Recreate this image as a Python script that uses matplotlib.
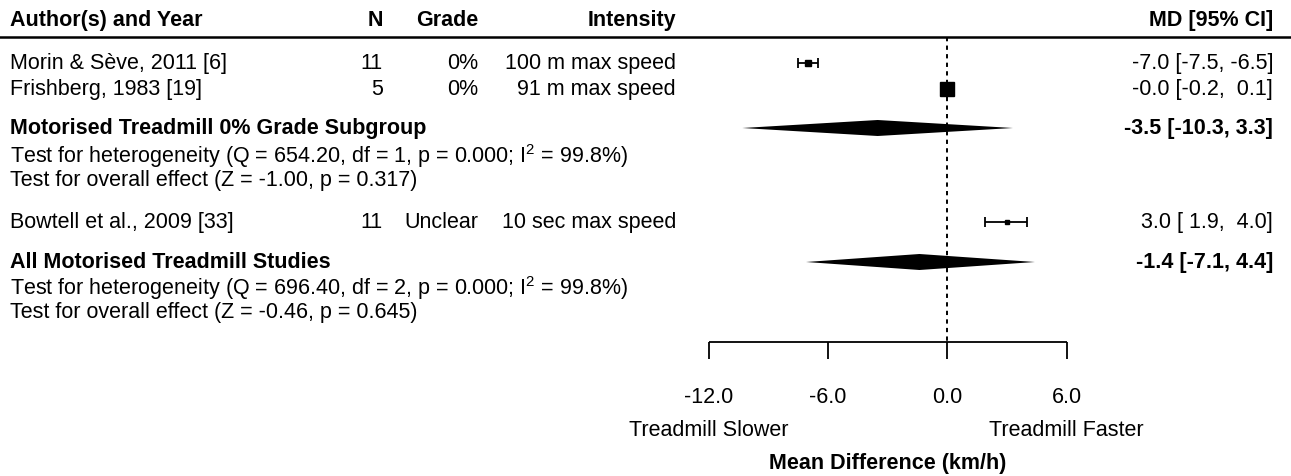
import matplotlib.pyplot as plt

plt.rcParams['font.family'] = ['Liberation Sans', 'DejaVu Sans']
plt.rcParams['mathtext.fontset'] = 'custom'
plt.rcParams['mathtext.rm'] = 'Liberation Sans'
plt.rcParams['mathtext.it'] = 'Liberation Sans:italic'

# study rows
authors = ["Morin & Sève, 2011 [6]", "Frishberg, 1983 [19]", "Bowtell et al., 2009 [33]"]
n_subj = [11, 5, 11]
grades = ["0%", "0%", "Unclear"]
intensity = ["100 m max speed", "91 m max speed", "10 sec max speed"]
md = [-7.0, -0.0, 3.0]
ci_lo = [-7.5, -0.2, 1.9]
ci_hi = [-6.5, 0.1, 4.0]
md_labels = ["-7.0 [-7.5, -6.5]", "-0.0 [-0.2,  0.1]", " 3.0 [ 1.9,  4.0]"]

# pooled estimates (subgroup, overall)
pool_names = ["Motorised Treadmill 0% Grade Subgroup", "All Motorised Treadmill Studies"]
pool_md = [-3.5, -1.4]
pool_lo = [-10.3, -7.1]
pool_hi = [3.3, 4.4]
pool_labels = ["-3.5 [-10.3, 3.3]", "-1.4 [-7.1, 4.4]"]
het_text = ["Test for heterogeneity (Q = 654.20, df = 1, p = 0.000; I$^2$ = 99.8%)",
            "Test for heterogeneity (Q = 696.40, df = 2, p = 0.000; I$^2$ = 99.8%)"]
eff_text = ["Test for overall effect (Z = -1.00, p = 0.317)",
            "Test for overall effect (Z = -0.46, p = 0.645)"]

xticks = [-12, -6, 0, 6]

# ---- layout (pixels) ----
W, H = 1291, 476
x0_px, unit_px = 947.3, 119.4 / 6
study_y = [63, 89, 222]
pool_y = [128, 262]
het_y = [155, 287]
eff_y = [180, 312]
box_px = [6, 14, 4]
header_y, rule_y, axis_y = 20, 37, 342
FS = 15.5
VA = "center_baseline"
DY = -2  # nudge text up so glyph centres sit on the row

fig = plt.figure(figsize=(W / 100, H / 100), dpi=100)
ax = fig.add_axes([0, 0, 1, 1])
ax.set_xlim(-x0_px / unit_px, (W - x0_px) / unit_px)
ax.set_ylim(H, 0)
ax.axis("off")
tr = ax.get_yaxis_transform()  # x in axes fraction, y in pixel rows


def px(x):
    return x / W


def txt(x, y, s, ha="left", bold=False):
    ax.text(px(x), y + DY, s, transform=tr, ha=ha, va=VA, fontsize=FS,
            fontweight="bold" if bold else "normal")


# header
txt(10, header_y, "Author(s) and Year", bold=True)
txt(383, header_y, "N", ha="right", bold=True)
txt(478, header_y, "Grade", ha="right", bold=True)
txt(676, header_y, "Intensity", ha="right", bold=True)
txt(1273, header_y, "MD [95% CI]", ha="right", bold=True)
ax.plot([0, 1], [rule_y, rule_y], transform=tr, color="black", lw=1.8)

# zero line
ax.vlines(0, rule_y, axis_y, color="black", lw=1.4, linestyles=(0, (2.2, 2.2)))

# studies
for i in range(len(md)):
    y = study_y[i]
    txt(10, y, authors[i])
    txt(383, y, str(n_subj[i]), ha="right")
    txt(478, y, grades[i], ha="right")
    txt(676, y, intensity[i], ha="right")
    txt(1273, y, md_labels[i], ha="right")
    ax.errorbar(md[i], y, xerr=[[md[i] - ci_lo[i]], [ci_hi[i] - md[i]]],
                fmt="none", ecolor="black", elinewidth=1.3, capsize=3.8, capthick=1.3)
    ax.plot(md[i], y, marker="s", color="black", markersize=box_px[i] * 0.72, lw=0)

# pooled
for k in range(len(pool_md)):
    y = pool_y[k]
    txt(10, y, pool_names[k], bold=True)
    txt(1273, y, pool_labels[k], ha="right", bold=True)
    ax.fill([pool_lo[k], pool_md[k], pool_hi[k], pool_md[k]],
            [y, y - 8, y, y + 8], color="black", lw=0)
    txt(10, het_y[k], het_text[k])
    txt(10, eff_y[k], eff_text[k])

# x axis
ax.hlines(axis_y, xticks[0], xticks[-1], color="black", lw=1.3)
for t in xticks:
    ax.vlines(t, axis_y, axis_y + 17, color="black", lw=1.3)
    ax.text(t, 397 + DY, f"{t:.1f}", ha="center", va=VA, fontsize=FS)
ax.text(xticks[0], 430 + DY, "Treadmill Slower", ha="center", va=VA, fontsize=FS)
ax.text(xticks[-1], 430 + DY, "Treadmill Faster", ha="center", va=VA, fontsize=FS)
ax.text((xticks[0] + xticks[-1]) / 2, 463 + DY, "Mean Difference (km/h)", ha="center",
        va=VA, fontsize=FS, fontweight="bold")

fig.savefig("out.png", dpi=100, facecolor="white")
